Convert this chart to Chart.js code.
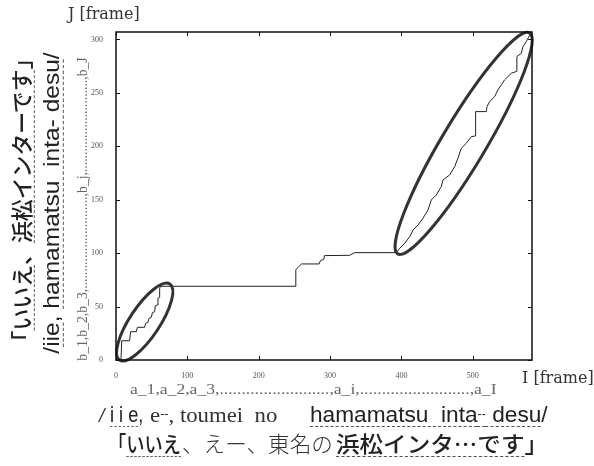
<!DOCTYPE html>
<html>
<head>
<meta charset="utf-8">
<script src="https://cdn.jsdelivr.net/npm/chart.js@4.4.1/dist/chart.umd.min.js"></script>
<style>
html, body { margin: 0; padding: 0; background: #fff; }
#wrap { position: relative; width: 594px; height: 466px; overflow: hidden; }
canvas { position: absolute; left: 0; top: 0; }
.t { position: absolute; white-space: nowrap; line-height: 1.2; color: #222; }
.serif { font-family: 'DejaVu Serif', serif; color: #333; }
.lser { font-family: 'Liberation Serif', serif; }
.sans { font-family: 'Liberation Sans Narrow', 'Liberation Sans', sans-serif; }
.jp { font-family: 'Noto Sans CJK JP', sans-serif; }
.ul { text-decoration: underline dashed #555 1px; text-underline-offset: 4px; }
.sm { font-size: 0.55em; vertical-align: 0.35em; }
</style>
</head>
<body>
<div id="wrap"><canvas id="c" width="594" height="466"></canvas></div>
<script>
// warping path (I frame -> J frame)
const pathI = [0, 7, 8, 19, 20.5, 28.5, 30, 40, 41.6, 44.8, 46.2, 49.5, 51, 54.2, 55, 57.8, 58.8, 61.2, 61.2, 62.6,
  252, 252, 253.8, 260, 284.6, 286.6, 291.2, 292.2, 327.6, 334.6, 392,
  395, 397.6, 404.6, 411.6, 416.3, 423.3, 430.2, 437.2, 441.9, 448.9, 455.9, 458.2, 467.6, 474.6, 479.2, 483.9,
  491, 498, 504, 504, 519, 520, 523.6, 530.6, 535.2, 540, 544.6, 554, 561, 561.8, 568, 570.3, 575, 577.2, 582];
const pathJ = [0, 0, 18, 18, 26.5, 26.5, 30.6, 30.6, 34.3, 35.3, 39, 40, 44.3, 45.2, 50.6, 51.5, 57.8, 58.7, 67.1, 69,
  69, 84.3, 85.9, 89.9, 89.9, 93, 94.3, 97.7, 98, 100.5, 100.5,
  102.3, 104.6, 109.2, 115.4, 121.7, 126.4, 132.7, 140.4, 149.8, 154.5, 162.3, 168.5, 173.2, 181, 188.8, 198.2,
  202.9, 209.1, 209.7, 232.5, 232.5, 237.2, 241.9, 246.5, 252.8, 257.5, 262.2, 268.4, 270, 284, 287, 293.3, 298, 301, 306];

const xTicks = [0, 100, 200, 300, 400, 500];
const yTicks = [0, 50, 100, 150, 200, 250, 300];
const xMax = 583;
const yMax = 307;

// ellipses drawn round the two diagonal parts: tips in data units
const ellFromI = [5, 394.8];
const ellFromJ = [0, 99.3];
const ellToI = [75.6, 579.6];
const ellToJ = [71.2, 306.2];
const ellHalfWidth = [15, 22]; // px

const frame = {
  id: 'frame',
  afterDraw(chart) {
    const { ctx, chartArea: a, scales } = chart;
    ctx.save();
    ctx.strokeStyle = '#111';
    ctx.lineWidth = 1.5;
    ctx.strokeRect(a.left, a.top, a.right - a.left, a.bottom - a.top);
    ctx.lineWidth = 1;
    ctx.beginPath();
    xTicks.forEach(v => {
      const x = Math.round(scales.x.getPixelForValue(v)) + 0.5;
      ctx.moveTo(x, a.bottom); ctx.lineTo(x, a.bottom - 4);
      ctx.moveTo(x, a.top); ctx.lineTo(x, a.top + 4);
    });
    yTicks.forEach(v => {
      const y = Math.round(scales.y.getPixelForValue(v)) + 0.5;
      ctx.moveTo(a.left, y); ctx.lineTo(a.left + 4, y);
      ctx.moveTo(a.right, y); ctx.lineTo(a.right - 4, y);
    });
    ctx.stroke();
    ctx.restore();
  }
};

const ellipses = {
  id: 'ellipses',
  afterDatasetsDraw(chart) {
    const { ctx, scales } = chart;
    ctx.save();
    ctx.strokeStyle = '#333';
    ctx.lineWidth = 3;
    ellFromI.forEach((_, k) => {
      const x1 = scales.x.getPixelForValue(ellFromI[k]), y1 = scales.y.getPixelForValue(ellFromJ[k]);
      const x2 = scales.x.getPixelForValue(ellToI[k]), y2 = scales.y.getPixelForValue(ellToJ[k]);
      const cx = (x1 + x2) / 2, cy = (y1 + y2) / 2;
      const r = Math.hypot(x2 - x1, y2 - y1) / 2;
      ctx.beginPath();
      ctx.ellipse(cx, cy, r, ellHalfWidth[k], Math.atan2(y2 - y1, x2 - x1), 0, Math.PI * 2);
      ctx.stroke();
    });
    ctx.restore();
  }
};

const tickFont = { family: 'Liberation Serif', size: 8 };

new Chart(document.getElementById('c'), {
  type: 'line',
  data: {
    datasets: [{
      data: pathI.map((x, i) => ({ x: x, y: pathJ[i] })),
      borderColor: '#222',
      borderWidth: 1,
      pointRadius: 0,
      tension: 0
    }]
  },
  options: {
    responsive: false,
    animation: false,
    layout: { padding: { left: 0, top: 32, right: 62, bottom: 0 } },
    plugins: { legend: { display: false }, tooltip: { enabled: false } },
    scales: {
      x: {
        type: 'linear', min: 0, max: xMax,
        afterBuildTicks: s => { s.ticks = xTicks.map(v => ({ value: v })); },
        afterFit: s => { s.height = 106; },
        grid: { display: false }, border: { display: false },
        ticks: { font: tickFont, color: '#555', padding: 3, maxRotation: 0, autoSkip: false }
      },
      y: {
        type: 'linear', min: 0, max: yMax,
        afterBuildTicks: s => { s.ticks = yTicks.map(v => ({ value: v })); },
        afterFit: s => { s.width = 116; },
        grid: { display: false }, border: { display: false },
        ticks: { font: tickFont, color: '#555', padding: 5, autoSkip: false }
      }
    }
  },
  plugins: [frame, ellipses]
});

// ---- text around the chart ----
const wrap = document.getElementById('wrap');

function seg(html, cls, style, x0, x1, cy) {
  const d = document.createElement('div');
  d.className = 't ' + cls;
  d.style.cssText = style;
  d.innerHTML = html;
  wrap.appendChild(d);
  const s = (x1 - x0) / d.offsetWidth;
  d.style.left = x0 + 'px';
  d.style.top = (cy - d.offsetHeight / 2) + 'px';
  d.style.transformOrigin = 'left center';
  d.style.transform = `scaleX(${s})`;
}

function vseg(html, cls, style, cx, y0, y1) {
  const d = document.createElement('div');
  d.className = 't ' + cls;
  d.style.cssText = style;
  d.innerHTML = html;
  wrap.appendChild(d);
  const s = (y1 - y0) / d.offsetWidth;
  d.style.left = cx + 'px';
  d.style.top = ((y0 + y1) / 2) + 'px';
  d.style.transform = `translate(-50%,-50%) rotate(-90deg) scaleX(${s})`;
}

seg('J [frame]', 'serif', 'font-size:16px', 68, 140, 13);
seg('I [frame]', 'serif', 'font-size:16px', 522, 594, 377);

const aLine = 'a_1,a_2,a_3,' + '.'.repeat(25) + ',a_i,' + '.'.repeat(25) + ',a_I';
seg(aLine, 'lser', 'font-size:14px;color:#666', 130, 497, 390);

// romanised line
seg('/', 'lser', 'font-size:22px;color:#333', 98, 106, 415);
seg('<span class="ul">i i e</span>,', 'sans', 'font-size:22px', 110, 143, 415);
seg('e<span class="sm">--</span>, toumei&nbsp; no', 'lser', 'font-size:21px;color:#333', 150, 277, 415);
seg('<span class="ul">hamamatsu&nbsp; inta<span class="sm">--</span> desu</span>/', 'sans', 'font-size:22px', 310, 548, 415);

// Japanese line
seg('「<span class="ul">いいえ</span>', 'jp', 'font-size:22px;font-weight:500', 108, 181, 442);
seg('、えー、東名の', 'jp', 'font-size:22px;font-weight:300;color:#333', 182, 333, 442);
seg('<span class="ul">浜松インタ…です</span>」', 'jp', 'font-size:22px;font-weight:500', 336, 548, 442);

// vertical texts on the left
vseg('「<span class="ul">いいえ</span>、<span class="ul">浜松インターです</span>」', 'jp', 'font-size:22px;font-weight:500', 20, 47, 352);
vseg('/<span class="ul">iie</span>, <span class="ul">hamamatsu&nbsp; inta- desu</span>/', 'sans', 'font-size:22px', 52, 52, 353);
const bLine = 'b_1,b_2,b_3,' + '.'.repeat(27) + ',b_j,' + '.'.repeat(27) + ',b_J';
vseg(bLine, 'lser', 'font-size:14px;color:#666', 83, 57, 360);
</script>
</body>
</html>
